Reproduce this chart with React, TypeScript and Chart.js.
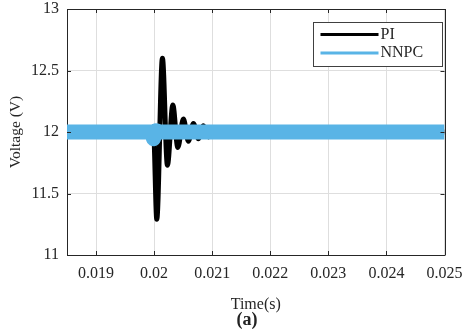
import React, { useEffect, useRef } from 'react';
import { Chart, registerables } from 'chart.js';

Chart.register(...registerables);

// ---- data ----
const xTicks = [0.019, 0.02, 0.021, 0.022, 0.023, 0.024, 0.025];
const yTicks = [11, 11.5, 12, 12.5, 13];
const xMin = 0.0185;
const xMax = 0.025;
const yMin = 11;
const yMax = 13;

const seriesNames = ['PI', 'NNPC'];
const seriesColors = ['#000000', '#59B4E6'];

const piTime = [0.0185, 0.01999, 0.020046, 0.020143, 0.020229, 0.020322, 0.020408, 0.020504, 0.02059, 0.020676, 0.020762, 0.020849, 0.020935, 0.021021, 0.0211, 0.025];
const piVolt = [12, 12, 11.29, 12.6, 11.73, 12.22, 11.875, 12.105, 11.925, 12.07, 11.945, 12.05, 11.96, 12.035, 12, 12];

const nnpcTime = [0.0185, 0.01996, 0.01999, 0.02003, 0.0201, 0.025];
const nnpcVolt = [12, 12, 11.945, 12.01, 12, 12];

const xTitle = 'Time(s)';
const yTitle = 'Voltage (V)';
const caption = '(a)';

const FONT = "'Liberation Serif', 'Times New Roman', serif";
const INK = '#262626';

export default function App() {
  const ref = useRef<HTMLCanvasElement>(null);

  useEffect(() => {
    document.body.style.margin = '0';
    const canvas = ref.current;
    if (!canvas) return;

    const decor = {
      id: 'decor',
      afterDraw(chart: any) {
        const { ctx, chartArea: a, scales } = chart;
        const xs = scales.x;
        const ys = scales.y;
        ctx.save();
        // frame top/right
        ctx.strokeStyle = INK;
        ctx.lineWidth = 1;
        ctx.beginPath();
        ctx.moveTo(Math.round(a.left) + 0.5, Math.round(a.top) + 0.5);
        ctx.lineTo(Math.round(a.right) + 0.5, Math.round(a.top) + 0.5);
        ctx.lineTo(Math.round(a.right) + 0.5, Math.round(a.bottom) + 0.5);
        ctx.stroke();
        // inward ticks
        ctx.beginPath();
        xTicks.forEach((v) => {
          const px = Math.round(xs.getPixelForValue(v)) + 0.5;
          ctx.moveTo(px, a.bottom);
          ctx.lineTo(px, a.bottom - 4);
          ctx.moveTo(px, a.top);
          ctx.lineTo(px, a.top + 4);
        });
        yTicks.forEach((v) => {
          const py = Math.round(ys.getPixelForValue(v)) + 0.5;
          ctx.moveTo(a.left, py);
          ctx.lineTo(a.left + 4, py);
          ctx.moveTo(a.right, py);
          ctx.lineTo(a.right - 4, py);
        });
        ctx.stroke();

        // legend
        const bw = 129;
        const bh = 44;
        const bx = Math.round(a.right - 3 - bw) + 0.5;
        const by = Math.round(a.top + 13) + 0.5;
        ctx.fillStyle = '#ffffff';
        ctx.fillRect(bx, by, bw, bh);
        ctx.strokeStyle = '#404040';
        ctx.lineWidth = 1;
        ctx.strokeRect(bx, by, bw, bh);
        ctx.font = `16px ${FONT}`;
        ctx.textBaseline = 'middle';
        ctx.textAlign = 'left';
        seriesNames.forEach((name, i) => {
          const ly = by + 12 + i * 18.5;
          ctx.strokeStyle = seriesColors[i];
          ctx.lineWidth = 3;
          ctx.beginPath();
          ctx.moveTo(bx + 7, ly);
          ctx.lineTo(bx + 65, ly);
          ctx.stroke();
          ctx.fillStyle = INK;
          ctx.fillText(name, bx + 67, ly);
        });

        // caption
        ctx.font = `bold 18px ${FONT}`;
        ctx.textAlign = 'center';
        ctx.fillStyle = '#222222';
        ctx.fillText(caption, 247, 320);
        ctx.restore();
      },
    };

    const chart = new Chart(canvas, {
      type: 'line',
      data: {
        datasets: [
          {
            label: seriesNames[0],
            data: piTime.map((t, i) => ({ x: t, y: piVolt[i] })),
            borderColor: seriesColors[0],
            backgroundColor: seriesColors[0],
            borderWidth: 5,
            borderJoinStyle: 'round',
            pointRadius: 0,
            tension: 0.4,
            cubicInterpolationMode: 'monotone',
            order: 1,
          },
          {
            label: seriesNames[1],
            data: nnpcTime.map((t, i) => ({ x: t, y: nnpcVolt[i] })),
            borderColor: seriesColors[1],
            backgroundColor: seriesColors[1],
            borderWidth: 15,
            borderJoinStyle: 'round',
            pointRadius: 0,
            tension: 0,
            order: 0,
          },
        ],
      },
      options: {
        responsive: false,
        animation: false,
        layout: { padding: { top: 9, right: 17.5, left: 0, bottom: 0 } },
        plugins: { legend: { display: false }, tooltip: { enabled: false } },
        scales: {
          x: {
            type: 'linear',
            min: xMin,
            max: xMax,
            afterBuildTicks: (s: any) => {
              s.ticks = xTicks.map((v) => ({ value: v }));
            },
            afterFit: (s: any) => {
              s.height = 76;
              s.paddingLeft = 0;
              s.paddingRight = 0;
            },
            ticks: {
              autoSkip: false,
              maxRotation: 0,
              padding: 9,
              color: INK,
              font: { family: FONT, size: 16 },
              callback: (v: any) => String(v),
            },
            grid: { color: '#dedede', drawTicks: false, lineWidth: 1 },
            border: { display: true, color: INK, width: 1 },
            title: {
              display: true,
              text: xTitle,
              color: INK,
              font: { family: FONT, size: 16 },
              padding: { top: 0, bottom: 17 },
            },
          },
          y: {
            type: 'linear',
            min: yMin,
            max: yMax,
            afterBuildTicks: (s: any) => {
              s.ticks = yTicks.map((v) => ({ value: v }));
            },
            afterFit: (s: any) => {
              s.width = 67;
              s.paddingTop = 0;
              s.paddingBottom = 0;
            },
            ticks: {
              padding: 8,
              color: INK,
              font: { family: FONT, size: 16 },
              callback: (v: any) => String(v),
            },
            grid: { color: '#dedede', drawTicks: false, lineWidth: 1 },
            border: { display: true, color: INK, width: 1 },
            title: {
              display: true,
              text: yTitle,
              color: INK,
              font: { family: FONT, size: 15.5 },
              padding: { top: 7, bottom: 0 },
            },
          },
        },
      },
      plugins: [decor],
    });

    return () => chart.destroy();
  }, []);

  return (
    <div style={{ width: 462, height: 331 }}>
      <canvas ref={ref} width={462} height={331} style={{ display: 'block' }} />
    </div>
  );
}
